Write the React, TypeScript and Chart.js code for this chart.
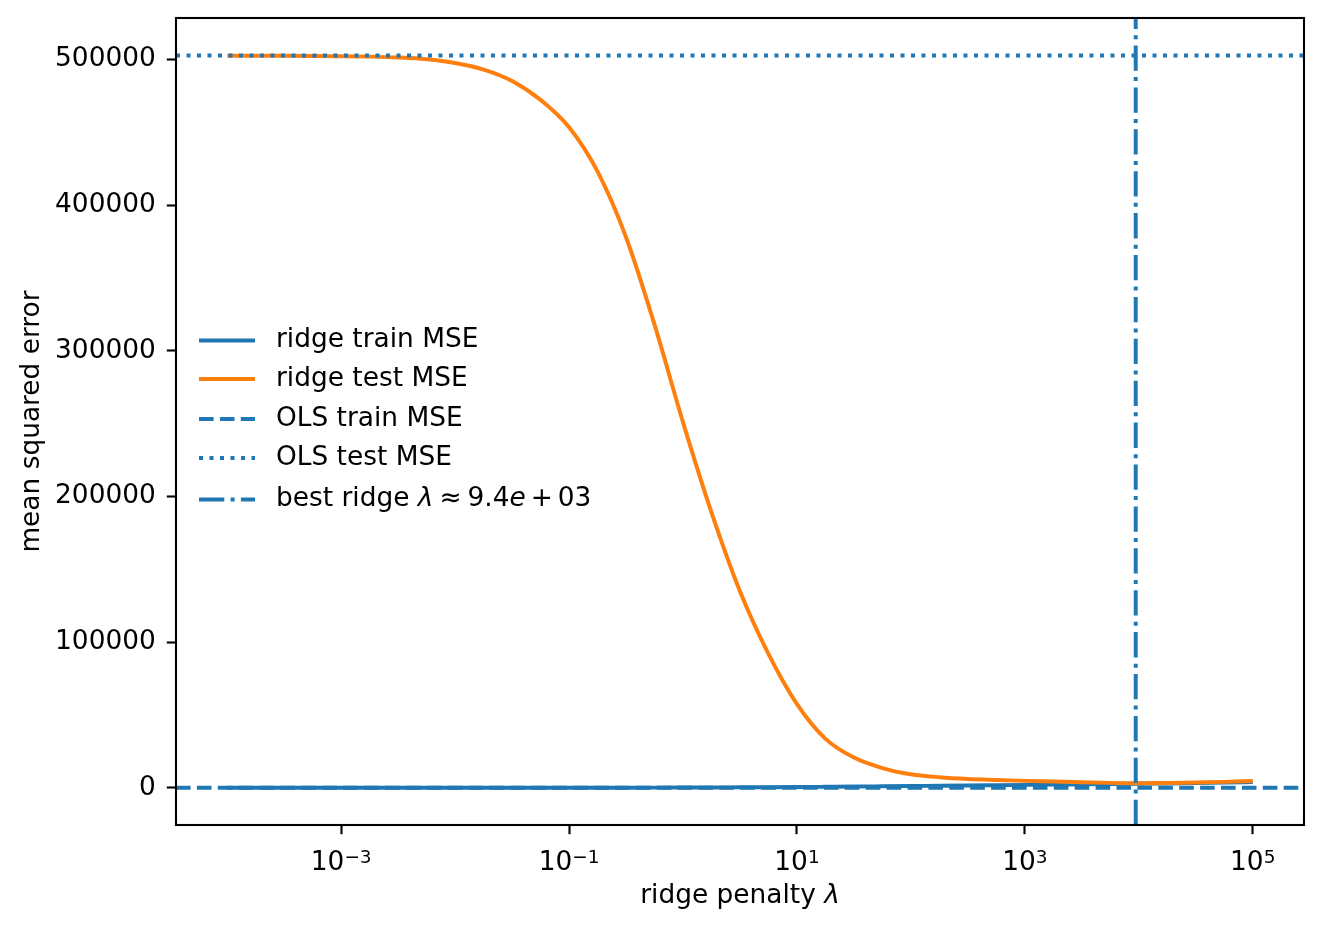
import { useEffect, useRef } from 'react';
import { Chart, registerables } from 'chart.js';

Chart.register(...registerables);

// ---- data ----
const lambdas = [
  1e-4, 1.78e-4, 3.16e-4, 5.62e-4,
  1e-3, 1.78e-3, 3.16e-3, 5.62e-3,
  1e-2, 1.78e-2, 3.16e-2, 5.62e-2,
  0.1, 0.178, 0.316, 0.562,
  1, 1.78, 3.16, 5.62,
  10, 17.8, 31.6, 56.2,
  100, 178, 316, 562,
  1e3, 1.78e3, 3.16e3, 5.62e3,
  1e4, 1.78e4, 3.16e4, 5.62e4,
  1e5,
];

const ridgeTestMSE = [
  502600, 502580, 502530, 502450,
  502300, 502000, 501400, 500200,
  497600, 493100, 485300, 472300,
  453500, 423000, 378000, 318000,
  251000, 189000, 135000, 92000,
  57500, 33700, 20900, 13700,
  9400, 7400, 6200, 5500,
  4900, 4400, 3900, 3500,
  3300, 3400, 3700, 4200,
  4800,
];

const ridgeTrainMSE = [
  100, 100, 100, 100,
  100, 100, 105, 110,
  115, 120, 130, 140,
  160, 180, 210, 250,
  300, 360, 440, 540,
  660, 800, 960, 1150,
  1350, 1550, 1750, 1950,
  2150, 2350, 2550, 2750,
  2950, 3150, 3400, 3700,
  4100,
];

const olsTrainMSE = 100;
const olsTestMSE = 502700;
const bestLambda = 9.4e3;

const xTickValues = [1e-3, 1e-1, 1e1, 1e3, 1e5];
const xTickExponents = ['\u22123', '\u22121', '1', '3', '5'];
const yTickValues = [0, 100000, 200000, 300000, 400000, 500000];
const xLimits = [10 ** -4.45, 10 ** 5.45];
const yLimits = [-25400, 528500];

const seriesLabels = ['ridge train MSE', 'ridge test MSE', 'OLS train MSE', 'OLS test MSE', 'best ridge'];

const BLUE = '#1f77b4';
const ORANGE = '#ff7f0e';
const FONT = '"DejaVu Sans", sans-serif';
const FS = 26.4;
const LW = 3.96;

const DASHED = [14.6, 6.3];
const DOTTED = [4, 6.5];
const DASHDOT = [25.3, 6.3, 4, 6.3];

const overlayPlugin = {
  id: 'mplOverlay',
  afterDraw(chart: any) {
    const { ctx, chartArea: a } = chart;
    ctx.save();
    // axes frame
    ctx.strokeStyle = '#000';
    ctx.lineWidth = 2.1;
    ctx.setLineDash([]);
    ctx.strokeRect(a.left, a.top, a.right - a.left, a.bottom - a.top);

    // x tick labels 10^n with superscript exponent
    const xs = chart.scales.x;
    ctx.fillStyle = '#000';
    ctx.textAlign = 'left';
    ctx.textBaseline = 'alphabetic';
    xTickValues.forEach((v, i) => {
      const px = xs.getPixelForValue(v);
      ctx.font = `${FS}px ${FONT}`;
      const wb = ctx.measureText('10').width;
      ctx.font = `${FS * 0.7}px ${FONT}`;
      const we = ctx.measureText(xTickExponents[i]).width;
      const sx = px - (wb + we) / 2;
      ctx.font = `${FS}px ${FONT}`;
      ctx.fillText('10', sx, a.bottom + 45);
      ctx.font = `${FS * 0.7}px ${FONT}`;
      ctx.fillText(xTickExponents[i], sx + wb, a.bottom + 37.5);
    });

    // legend
    const x0 = a.left + 23;
    const x1 = a.left + 79;
    const tx = a.left + 100;
    const rowY = [a.top + 322.5, a.top + 361, a.top + 401, a.top + 440, a.top + 481.5];
    const ds = chart.data.datasets;
    for (let i = 0; i < ds.length; i++) {
      const d = ds[i];
      const y = rowY[i];
      ctx.beginPath();
      ctx.strokeStyle = d.borderColor;
      ctx.lineWidth = LW;
      ctx.lineCap = 'butt';
      ctx.setLineDash(d.borderDash || []);
      ctx.moveTo(x0, y);
      ctx.lineTo(x1, y);
      ctx.stroke();
      ctx.setLineDash([]);
      ctx.fillStyle = '#000';
      ctx.textBaseline = 'middle';
      ctx.textAlign = 'left';
      if (i < ds.length - 1) {
        ctx.font = `${FS}px ${FONT}`;
        ctx.fillText(seriesLabels[i], tx, y);
      } else {
        const pieces: [string, boolean, number][] = [
          [seriesLabels[i] + ' ', false, 0],
          ['\u03BB', true, 6],
          ['\u2248', false, 6],
          ['9.4', false, 0],
          ['e', true, 5],
          ['+', false, 5],
          ['03', false, 0],
        ];
        let cx = tx;
        for (const [t, it, gap] of pieces) {
          ctx.font = `${it ? 'italic ' : ''}${FS}px ${FONT}`;
          ctx.fillText(t, cx, y);
          cx += ctx.measureText(t).width + gap;
        }
      }
    }

    // x axis title with italic lambda
    const t1 = 'ridge penalty ';
    const t2 = '\u03BB';
    ctx.font = `${FS}px ${FONT}`;
    const w1 = ctx.measureText(t1).width;
    ctx.font = `italic ${FS}px ${FONT}`;
    const w2 = ctx.measureText(t2).width;
    const cxm = (a.left + a.right) / 2;
    const sx = cxm - (w1 + w2) / 2;
    const ty = a.bottom + 71;
    ctx.fillStyle = '#000';
    ctx.textBaseline = 'middle';
    ctx.font = `${FS}px ${FONT}`;
    ctx.fillText(t1, sx, ty);
    ctx.font = `italic ${FS}px ${FONT}`;
    ctx.fillText(t2, sx + w1, ty);
    ctx.restore();
  },
};

export default function App() {
  const canvasRef = useRef<HTMLCanvasElement | null>(null);

  useEffect(() => {
    const canvas = canvasRef.current;
    if (!canvas) return;
    Chart.defaults.font.family = FONT;
    Chart.defaults.font.size = FS;
    Chart.defaults.color = '#000';

    const common = { pointRadius: 0, pointHoverRadius: 0, fill: false, clip: 0, borderWidth: LW, borderCapStyle: 'butt' as const };

    const chart = new Chart(canvas, {
      type: 'line',
      data: {
        datasets: [
          {
            label: seriesLabels[0],
            data: lambdas.map((l, i) => ({ x: l, y: ridgeTrainMSE[i] })),
            borderColor: BLUE,
            cubicInterpolationMode: 'monotone',
            order: 5,
            ...common,
          },
          {
            label: seriesLabels[1],
            data: lambdas.map((l, i) => ({ x: l, y: ridgeTestMSE[i] })),
            borderColor: ORANGE,
            cubicInterpolationMode: 'monotone',
            order: 4,
            ...common,
          },
          {
            label: seriesLabels[2],
            data: [{ x: xLimits[0], y: olsTrainMSE }, { x: xLimits[1], y: olsTrainMSE }],
            borderColor: BLUE,
            borderDash: DASHED,
            order: 3,
            ...common,
          },
          {
            label: seriesLabels[3],
            data: [{ x: xLimits[0], y: olsTestMSE }, { x: xLimits[1], y: olsTestMSE }],
            borderColor: BLUE,
            borderDash: DOTTED,
            order: 2,
            ...common,
          },
          {
            label: seriesLabels[4],
            data: [{ x: bestLambda, y: yLimits[0] }, { x: bestLambda, y: yLimits[1] }],
            borderColor: BLUE,
            borderDash: DASHDOT,
            order: 1,
            ...common,
          },
        ],
      },
      options: {
        responsive: false,
        animation: false,
        events: [],
        layout: { padding: { left: 0, top: 18, right: 19, bottom: 0 } },
        plugins: {
          legend: { display: false },
          tooltip: { enabled: false },
        },
        scales: {
          x: {
            type: 'logarithmic',
            min: xLimits[0],
            max: xLimits[1],
            afterBuildTicks: (scale: any) => {
              scale.ticks = xTickValues.map((v) => ({ value: v }));
            },
            afterFit: (scale: any) => {
              scale.height = 107;
              scale.paddingLeft = 0;
              scale.paddingRight = 0;
            },
            ticks: { display: false, autoSkip: false, maxRotation: 0 },
            grid: { display: true, drawOnChartArea: false, drawTicks: true, tickLength: 9.2, tickWidth: 2.1, tickColor: '#000' },
            border: { display: false },
          },
          y: {
            type: 'linear',
            min: yLimits[0],
            max: yLimits[1],
            afterBuildTicks: (scale: any) => {
              scale.ticks = yTickValues.map((v) => ({ value: v }));
            },
            afterFit: (scale: any) => {
              scale.width = 176;
              scale.paddingTop = 0;
              scale.paddingBottom = 0;
            },
            ticks: {
              autoSkip: false,
              padding: 11,
              color: '#000',
              font: { size: FS, family: FONT },
              callback: (value: any) => String(value),
            },
            grid: { display: true, drawOnChartArea: false, drawTicks: true, tickLength: 9.2, tickWidth: 2.1, tickColor: '#000' },
            border: { display: false },
            title: {
              display: true,
              text: 'mean squared error',
              color: '#000',
              font: { size: FS, family: FONT },
              padding: { top: 16, bottom: 0 },
            },
          },
        },
      },
      plugins: [overlayPlugin],
    });

    return () => {
      chart.destroy();
    };
  }, []);

  return (
    <div style={{ position: 'absolute', left: 0, top: 0, width: 1323, height: 932, background: '#fff' }}>
      <canvas ref={canvasRef} width={1323} height={932} style={{ display: 'block' }} />
    </div>
  );
}
